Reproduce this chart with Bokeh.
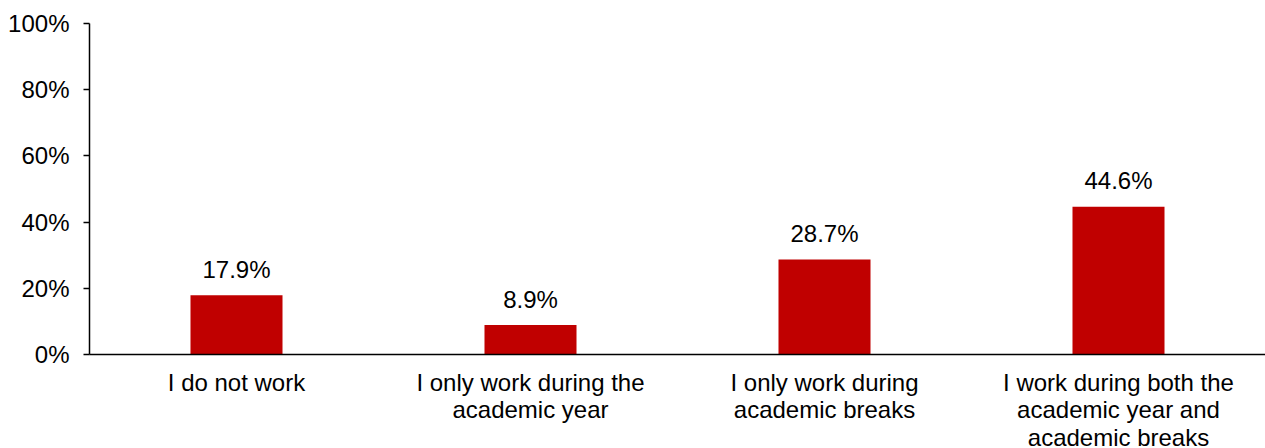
from bokeh.plotting import figure
from bokeh.models import FactorRange, Range1d, FixedTicker, PrintfTickFormatter, ColumnDataSource
from bokeh.core.properties import value
from bokeh.embed import file_html
from bokeh.resources import INLINE

categories = ["I do not work", "I only work during the\nacademic year",
              "I only work during\nacademic breaks",
              "I work during both the\nacademic year and\nacademic breaks"]
percent = [17.9, 8.9, 28.7, 44.6]
value_labels = ["17.9%", "8.9%", "28.7%", "44.6%"]
y_ticks = [0, 20, 40, 60, 80, 100]

FONT = "Liberation Sans"
FS = "24px"

src = ColumnDataSource(dict(cat=categories, pct=percent, lab=value_labels))

p = figure(x_range=FactorRange(*categories, range_padding=0),
           y_range=Range1d(0, 100),
           frame_width=1176, frame_height=331,
           output_backend="svg", toolbar_location=None,
           min_border_left=89, min_border_right=0, min_border_top=23, min_border_bottom=0)
p.outline_line_color = None
p.xgrid.grid_line_color = None
p.ygrid.grid_line_color = None
p.background_fill_color = "white"
p.border_fill_color = "white"

p.vbar(x="cat", top="pct", width=0.313, source=src, fill_color="#C00000", line_color=None)
p.text(x="cat", y="pct", text="lab", source=src, text_align="center",
       text_baseline="alphabetic", y_offset=-26, text_font=value(FONT),
       text_font_size=FS, text_color="black")

p.yaxis.ticker = FixedTicker(ticks=y_ticks)
p.yaxis.formatter = PrintfTickFormatter(format="%d%%")
p.yaxis.minor_tick_line_color = None
p.yaxis.major_tick_out = 6
p.yaxis.major_tick_in = 0
p.yaxis.major_label_standoff = 14
for ax in (p.xaxis, p.yaxis):
    ax.axis_line_color = "black"
    ax.axis_line_width = 1.5
    ax.major_tick_line_color = "black"
    ax.major_tick_line_width = 1.5
    ax.major_label_text_font = FONT
    ax.major_label_text_font_size = FS
    ax.major_label_text_color = "black"

p.xaxis.major_tick_line_color = None
p.xaxis.major_tick_out = 0
p.xaxis.major_tick_in = 0
p.xaxis.major_label_standoff = 14
p.xaxis.major_label_text_line_height = 1.03

open("out.html", "w").write(file_html(p, INLINE))
